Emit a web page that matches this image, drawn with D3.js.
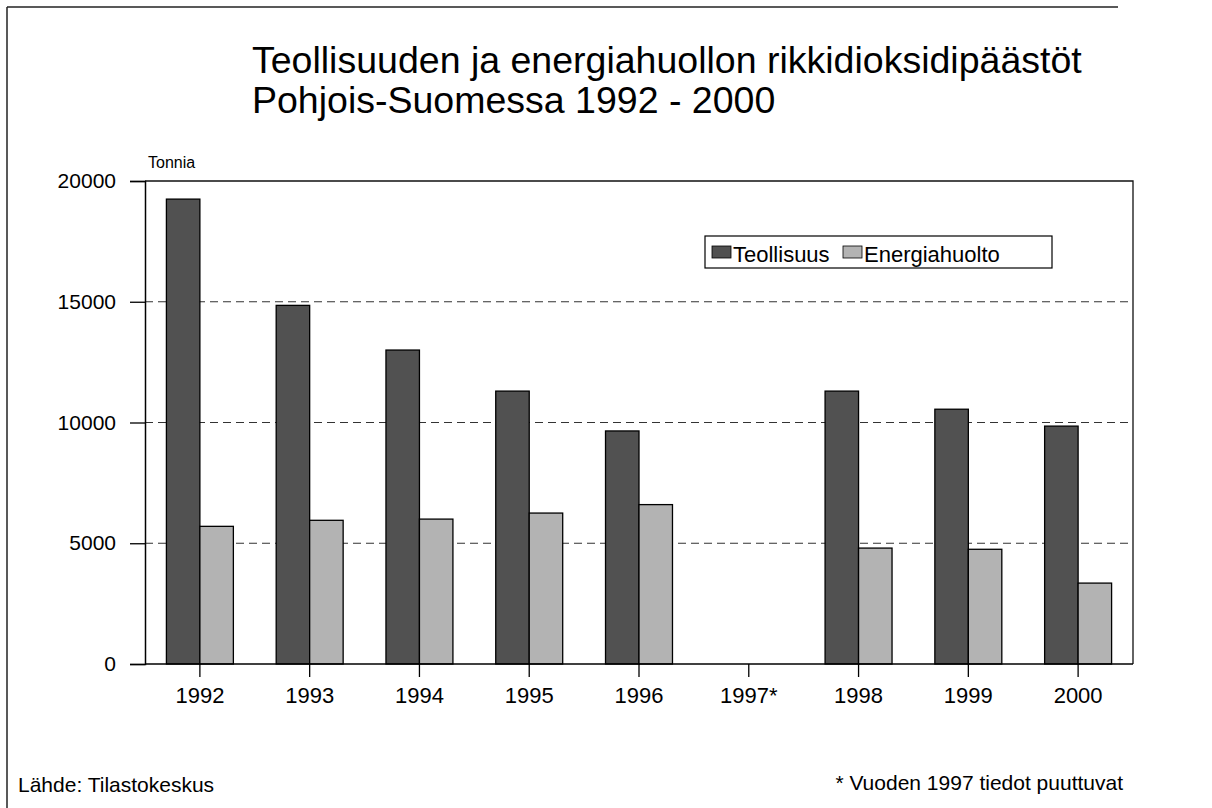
<!DOCTYPE html>
<html>
<head>
<meta charset="utf-8">
<script src="https://cdn.jsdelivr.net/npm/d3@7"></script>
<style>
  html, body { margin: 0; padding: 0; background: #fff; }
  svg { display: block; font-family: "Liberation Sans", Arial, sans-serif; }
</style>
</head>
<body>
<svg id="chart" width="1212" height="808"></svg>
<script>
// Sulphur dioxide emissions in Northern Finland, tonnes per year
const years = ["1992", "1993", "1994", "1995", "1996", "1997*", "1998", "1999", "2000"];
const seriesNames = ["Teollisuus", "Energiahuolto"];
const teollisuus = [19250, 14850, 13000, 11300, 9650, null, 11300, 10550, 9850];
const energiahuolto = [5700, 5950, 6000, 6250, 6600, null, 4800, 4750, 3350];
const yTicks = [0, 5000, 10000, 15000, 20000];

const titleLines = [
  "Teollisuuden ja energiahuollon rikkidioksidipäästöt",
  "Pohjois-Suomessa 1992 - 2000"
];

const svg = d3.select("#chart");

const fills = { "Teollisuus": "#515151", "Energiahuolto": "#b3b3b3" };

// page frame (left and top edges)
svg.append("line").attr("x1", 7).attr("x2", 7).attr("y1", 7).attr("y2", 808)
  .attr("stroke", "#222").attr("stroke-width", 1.5);
svg.append("line").attr("x1", 7).attr("x2", 1118).attr("y1", 7).attr("y2", 7)
  .attr("stroke", "#222").attr("stroke-width", 1.5);

// title
svg.append("g").selectAll("text").data(titleLines).join("text")
  .attr("x", 252).attr("y", (d, i) => 73 + i * 40)
  .attr("font-size", 37.5).attr("fill", "#000")
  .text(d => d);

const plot = { left: 145, right: 1133, top: 181, bottom: 664 };

const x = d3.scaleBand().domain(years)
  .range([plot.left, plot.right]).paddingInner(0.39).paddingOuter(0.195);
const xs = d3.scaleBand().domain(seriesNames).range([0, x.bandwidth()]);
const y = d3.scaleLinear().domain([0, 20000]).range([plot.bottom, plot.top]);

// dashed gridlines
svg.append("g").selectAll("line").data(yTicks.filter(t => t > 0 && t < 20000)).join("line")
  .attr("x1", plot.left).attr("x2", plot.right)
  .attr("y1", d => y(d)).attr("y2", d => y(d))
  .attr("stroke", "#333").attr("stroke-width", 1.2)
  .attr("stroke-dasharray", "8,5");

// plot box: top and right edges
svg.append("path")
  .attr("d", `M${plot.left},${plot.top}H${plot.right}V${plot.bottom}`)
  .attr("fill", "none").attr("stroke", "#111").attr("stroke-width", 1.3);

// bars
const rows = years.map((yr, i) => ({
  year: yr,
  values: [
    { key: "Teollisuus", value: teollisuus[i] },
    { key: "Energiahuolto", value: energiahuolto[i] }
  ]
}));
const groups = svg.append("g").selectAll("g").data(rows).join("g")
  .attr("transform", d => `translate(${x(d.year)},0)`);
groups.selectAll("rect").data(d => d.values.filter(v => v.value != null)).join("rect")
  .attr("x", d => xs(d.key))
  .attr("width", xs.bandwidth())
  .attr("y", d => y(d.value))
  .attr("height", d => y(0) - y(d.value))
  .attr("fill", d => fills[d.key])
  .attr("stroke", "#000").attr("stroke-width", 1.3);

// y axis
const yAxis = d3.axisLeft(y).tickValues(yTicks).tickSize(15).tickPadding(14)
  .tickFormat(d3.format("d"));
const gy = svg.append("g").attr("transform", `translate(${plot.left},0)`).call(yAxis);
gy.select(".domain").attr("stroke", "#000").attr("stroke-width", 1.5);
gy.selectAll(".tick line").attr("stroke", "#000").attr("stroke-width", 1.3);
gy.selectAll(".tick text").attr("font-size", 21).attr("fill", "#000")
  .attr("font-family", "Liberation Sans, Arial, sans-serif");

// x axis with ticks at the category centres
const xAxis = d3.axisBottom(x).tickSize(13).tickPadding(10).tickSizeOuter(0);
const gx = svg.append("g").attr("transform", `translate(0,${plot.bottom})`).call(xAxis);
gx.select(".domain").attr("stroke", "#000").attr("stroke-width", 1.5)
  .attr("d", `M${plot.left},0H${plot.right}`);
gx.selectAll(".tick line").attr("stroke", "#000").attr("stroke-width", 1.3);
gx.selectAll(".tick text").attr("font-size", 22).attr("fill", "#000")
  .attr("font-family", "Liberation Sans, Arial, sans-serif");

// unit label
svg.append("text").attr("x", 148).attr("y", 168)
  .attr("font-size", 16).attr("fill", "#000").text("Tonnia");

// legend
const legend = svg.append("g");
legend.append("rect").attr("x", 705).attr("y", 236).attr("width", 347).attr("height", 32)
  .attr("fill", "#fff").attr("stroke", "#000").attr("stroke-width", 1.2);
const legendX = [712, 843];
const items = legend.selectAll("g").data(seriesNames).join("g")
  .attr("transform", (d, i) => `translate(${legendX[i]},0)`);
items.append("rect").attr("x", 0).attr("y", 246).attr("width", 19).attr("height", 12)
  .attr("fill", d => fills[d]).attr("stroke", "#000").attr("stroke-width", 0.8);
items.append("text").attr("x", 21).attr("y", 262)
  .attr("font-size", 22).attr("fill", "#000").text(d => d);

// footnotes
svg.append("text").attr("x", 18).attr("y", 792)
  .attr("font-size", 21).attr("fill", "#000").text("Lähde: Tilastokeskus");
svg.append("text").attr("x", 1123).attr("y", 790).attr("text-anchor", "end")
  .attr("font-size", 21).attr("fill", "#000").text("* Vuoden 1997 tiedot puuttuvat");
</script>
</body>
</html>
